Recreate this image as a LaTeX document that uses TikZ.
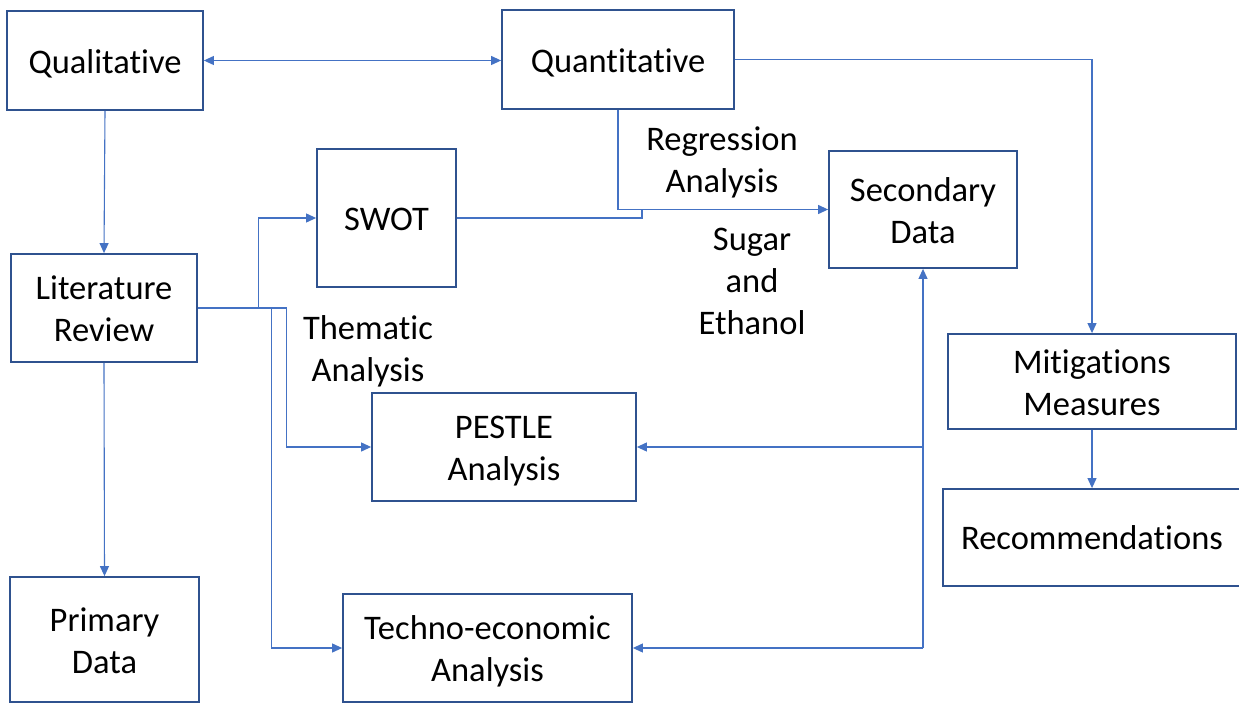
\documentclass[tikz,border=0pt]{standalone}
\usepackage{fontspec}
\setmainfont{Carlito}[Ligatures=NoCommon]
\usetikzlibrary{arrows.meta,calc}
\definecolor{boxblue}{HTML}{2F528F}
\definecolor{lineblue}{HTML}{4472C4}
\begin{document}
\begin{tikzpicture}[x=1pt,y=-1pt,
  >={Triangle[length=10pt,width=9pt]},
  txt/.style={font=\fontsize{34.5}{42}\selectfont, align=center, text=black, inner sep=0pt},
  box/.style={draw=boxblue, line width=1.8pt, fill=white, inner sep=0pt},
  conn/.style={draw=lineblue, line width=1.1pt}]
\useasboundingbox[fill=white] (0,0) rectangle (1239,703);
% boxes
\node[box, minimum width=196, minimum height=99] (qual) at (105,60.5) {};
\node[box, minimum width=232, minimum height=99] (quant) at (618,59.5) {};
\node[box, minimum width=186, minimum height=108] (lr) at (104,308) {};
\node[box, minimum width=139, minimum height=138] (swot) at (386.5,218) {};
\node[box, minimum width=188, minimum height=117] (sec) at (923,209.5) {};
\node[box, minimum width=288, minimum height=95] (mit) at (1092,381.5) {};
\node[box, minimum width=298, minimum height=97] (rec) at (1092,537.5) {};
\node[box, minimum width=264, minimum height=108] (pestle) at (504,447) {};
\node[box, minimum width=189, minimum height=125] (prim) at (104.5,639.5) {};
\node[box, minimum width=289, minimum height=108] (techno) at (487.5,648) {};
% box texts
\node[txt, yshift=-3] (tqual) at (qual) {Qualitative};
\node[txt, yshift=-3] (tquant) at (quant) {Quantitative};
\node[txt, yshift=-1] (tlr) at (lr) {Literature\\Review};
\node[txt, yshift=-1] (tswot) at (swot) {SWOT};
\node[txt, yshift=-1] (tsec) at (sec) {Secondary\\Data};
\node[txt, yshift=-1] (tmit) at (mit) {Mitigations\\Measures};
\node[txt] (trec) at (rec) {Recommendations};
\node[txt, yshift=-4] (tpestle) at (pestle) {PESTLE\\Analysis};
\node[txt, yshift=-1] (tprim) at (prim) {Primary\\Data};
\node[txt, yshift=-3] (ttechno) at (techno) {Techno-economic\\Analysis};
% labels
\node[txt] (lreg) at (722,162) {Regression\\Analysis};
\node[txt] (lsug) at (752,281.5) {Sugar\\and\\Ethanol};
\node[txt] (lthem) at (368,351.5) {Thematic\\Analysis};
% connectors
\draw[conn,<->] (qual.east) -- (qual.east -| quant.west);
\draw[conn,->] (qual.south) -- (lr.north);
\draw[conn,->] (lr.south) -- (prim.north);
\draw[conn,->] (lr.east) -- ++(61,0) |- (swot.west);
\draw[conn,->] (lr.east) -- ++(89,0) |- (pestle.west);
\draw[conn,->] (lr.east) -- ++(74,0) |- (techno.west);
\draw[conn,->] (quant.south) |- (sec.west);
\coordinate (join) at ($(quant.south |- sec.west)+(24,0)$);
\draw[conn] (swot.east) -| (join);
\draw[conn,->] (quant.east) -| (mit.north);
\draw[conn,->] (mit.south) -- (rec.north);
\coordinate (busp) at (sec.south |- pestle.east);
\coordinate (bust) at (sec.south |- techno.east);
\draw[conn,->] (bust) -- (sec.south);
\draw[conn,->] (busp) -- (pestle.east);
\draw[conn,->] (bust) -- (techno.east);
\end{tikzpicture}
\end{document}
